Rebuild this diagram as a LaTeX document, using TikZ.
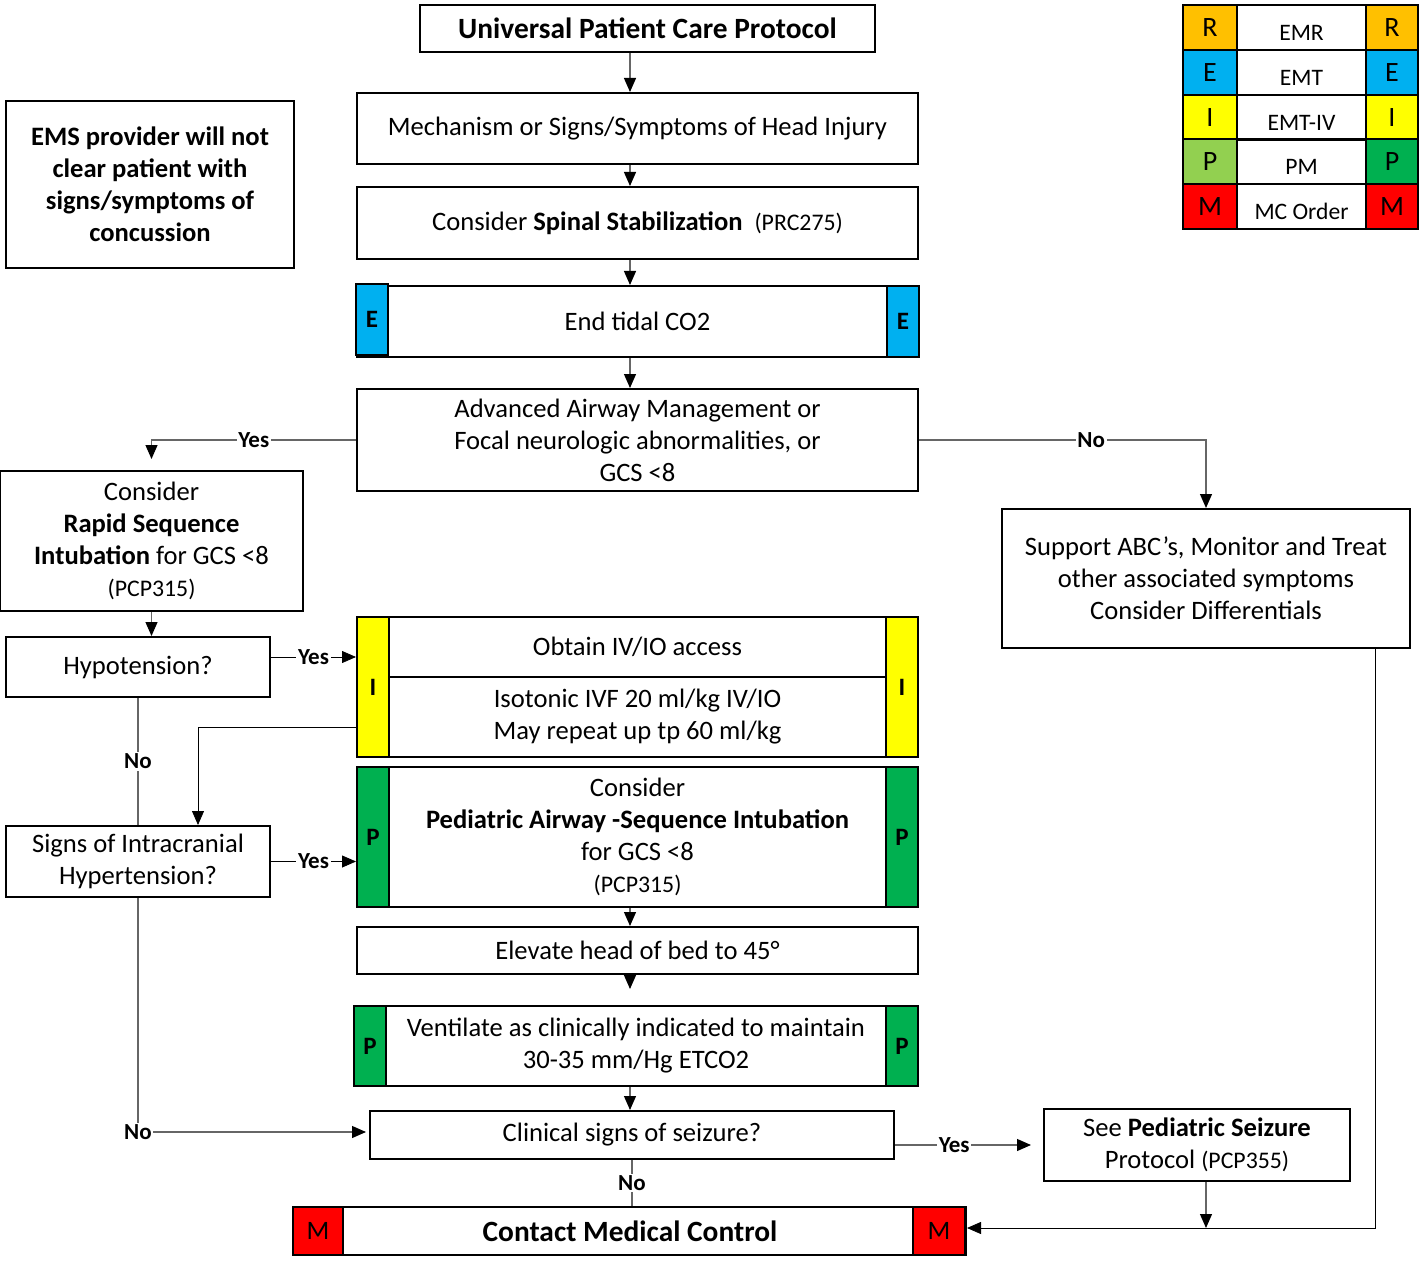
\documentclass[tikz,border=0pt]{standalone}
\usepackage{fontspec}
\setmainfont{Carlito}
\usetikzlibrary{arrows.meta}
\definecolor{emrorange}{HTML}{FFC000}
\definecolor{emtblue}{HTML}{00B0F0}
\definecolor{ivyellow}{HTML}{FFFF00}
\definecolor{pmlight}{HTML}{92D050}
\definecolor{pmgreen}{HTML}{00B050}
\definecolor{mcred}{HTML}{FF0000}

\tikzset{
  box/.style={draw, line width=1pt, fill=white, align=center, inner sep=0pt,
    font=\fontsize{13.3}{16}\selectfont},
  tab/.style={draw, line width=1pt, inner sep=0pt, minimum width=16pt,
    font=\bfseries\fontsize{12.5}{14}\selectfont},
  cell/.style={draw, line width=1pt, inner sep=0pt, minimum height=22.5pt,
    font=\fontsize{14}{16}\selectfont},
  lbl/.style={fill=white, inner sep=0.8pt, font=\bfseries\fontsize{11.5}{13}\selectfont},
  link/.style={draw=black!60, line width=0.6pt},
  >={Triangle[width=6pt,length=7pt,color=black]}
}
\newcommand{\smalltxt}[1]{{\fontsize{11.9}{13}\selectfont #1}}

\begin{document}
\begin{tikzpicture}[x=0.5pt, y=-0.5pt]
 \useasboundingbox (0,0) rectangle (1421,1268);
 \coordinate (spine) at (630,0);

 % top of the chart
 \node[box, font=\bfseries\fontsize{14.7}{16}\selectfont, minimum width=227.5pt, minimum height=23.5pt]
   (upcp) at (647.5,28.5) {Universal Patient Care Protocol};
 \node[box, font=\bfseries\fontsize{13.3}{16}\selectfont, minimum width=144pt, minimum height=83.5pt]
   (concussion) at (150,184.5) {EMS provider will not\\clear patient with\\signs/symptoms of\\concussion};
 \node[box, minimum width=280.5pt, minimum height=35.5pt]
   (mech) at (637.5,128.5) {Mechanism or Signs/Symptoms of Head Injury};
 \node[box, minimum width=280.5pt, minimum height=36pt]
   (spinal) at (637.5,223) {Consider \textbf{Spinal Stabilization}\ \ \smalltxt{(PRC275)}};
 \node[box, minimum width=280.5pt, minimum height=35.5pt]
   (etco) at (637.5,321.5) {End tidal CO2};
 \node[tab, fill=emtblue, minimum height=35pt] (etcoL) at (372,319.5) {E};
 \node[tab, fill=emtblue, minimum height=35.5pt] (etcoR) at (903,321.5) {E};
 \node[box, minimum width=280.5pt, minimum height=51pt]
   (airway) at (637.5,440) {Advanced Airway Management or\\Focal neurologic abnormalities, or\\GCS <8};

 % left branch
 \node[box, minimum width=151.5pt, minimum height=70pt]
   (rsi) at (151.5,541) {Consider\\\textbf{Rapid Sequence}\\\textbf{Intubation} for GCS <8\\\smalltxt{(PCP315)}};
 \node[box, minimum width=132pt, minimum height=30pt] (hypo) at (138,667) {Hypotension?};
 \node[box, minimum width=132pt, minimum height=35.5pt]
   (signs) at (138,861.5) {Signs of Intracranial\\Hypertension?};

 % right branch
 \node[box, minimum width=204pt, minimum height=69.5pt]
   (support) at (1206,578.5) {Support ABC’s, Monitor and Treat\\other associated symptoms\\Consider Differentials};

 % IV / IO
 \node[box, minimum width=248.5pt, minimum height=30pt] (ivtop) at (637.5,647) {Obtain IV/IO access};
 \node[box, minimum width=248.5pt, minimum height=40pt]
   (ivfluid) at (637.5,717) {Isotonic IVF 20 ml/kg IV/IO\\May repeat up tp 60 ml/kg};
 \node[tab, fill=ivyellow, minimum height=70pt] (ivL) at (373,687) {I};
 \node[tab, fill=ivyellow, minimum height=70pt] (ivR) at (902,687) {I};

 % paramedic steps
 \node[box, minimum width=280.5pt, minimum height=70pt]
   (pai) at (637.5,837) {Consider\\\textbf{Pediatric Airway -Sequence Intubation}\\for GCS <8\\\smalltxt{(PCP315)}};
 \node[tab, fill=pmgreen, minimum height=70pt] (paiL) at (373,837) {P};
 \node[tab, fill=pmgreen, minimum height=70pt] (paiR) at (902,837) {P};
 \node[box, minimum width=280.5pt, minimum height=23.5pt] (elevate) at (637.5,950.5) {Elevate head of bed to 45°};
 \node[box, minimum width=282pt, minimum height=40pt]
   (vent) at (636,1046) {Ventilate as clinically indicated to maintain\\30-35 mm/Hg ETCO2};
 \node[tab, fill=pmgreen, minimum height=40pt] (ventL) at (370,1046) {P};
 \node[tab, fill=pmgreen, minimum height=40pt] (ventR) at (902,1046) {P};

 % bottom
 \node[box, minimum width=262pt, minimum height=24pt] (seizure) at (632,1135) {Clinical signs of seizure?};
 \node[box, minimum width=153pt, minimum height=36pt]
   (seepro) at (1197,1145) {See \textbf{Pediatric Seizure}\\Protocol \smalltxt{(PCP355)}};
 \node[box, font=\bfseries\fontsize{14.7}{16}\selectfont, minimum width=336pt, minimum height=24pt]
   (contact) at (630,1231) {Contact Medical Control};
 \node[tab, fill=mcred, minimum width=25pt, minimum height=24pt, font=\fontsize{13.3}{14}\selectfont] (contactL) at (318,1231) {M};
 \node[tab, fill=mcred, minimum width=26pt, minimum height=24pt, font=\fontsize{13.3}{14}\selectfont] (contactR) at (939,1231) {M};

 % legend
 \node[cell, fill=emrorange, minimum width=27pt] (rL) at (1210,28) {R};
 \node[cell, minimum width=64.5pt, text height=13pt, text depth=0pt, font=\fontsize{11.8}{13}\selectfont] (rM) at (1301.5,28) {EMR};
 \node[cell, fill=emrorange, minimum width=26pt] (rR) at (1392,28) {R};
 \node[cell, fill=emtblue, minimum width=27pt] (eL) at (1210,72.5) {E};
 \node[cell, minimum width=64.5pt, text height=13pt, text depth=0pt, font=\fontsize{11.8}{13}\selectfont] (eM) at (1301.5,72.5) {EMT};
 \node[cell, fill=emtblue, minimum width=26pt] (eR) at (1392,72.5) {E};
 \node[cell, fill=ivyellow, minimum width=27pt] (iL) at (1210,117.5) {I};
 \node[cell, minimum width=64.5pt, text height=13pt, text depth=0pt, font=\fontsize{11.8}{13}\selectfont] (iM) at (1301.5,117.5) {EMT-IV};
 \node[cell, fill=ivyellow, minimum width=26pt] (iR) at (1392,117.5) {I};
 \node[cell, fill=pmlight, minimum width=27pt] (pL) at (1210,162) {P};
 \node[cell, minimum width=64.5pt, text height=13pt, text depth=0pt, font=\fontsize{11.8}{13}\selectfont] (pM) at (1301.5,162) {PM};
 \node[cell, fill=pmgreen, minimum width=26pt] (pR) at (1392,162) {P};
 \node[cell, fill=mcred, minimum width=27pt] (mL) at (1210,206.5) {M};
 \node[cell, minimum width=64.5pt, text height=13pt, text depth=0pt, font=\fontsize{11.8}{13}\selectfont] (mM) at (1301.5,206.5) {MC Order};
 \node[cell, fill=mcred, minimum width=26pt] (mR) at (1392,206.5) {M};

 % connectors down the middle
 \draw[link, ->] (upcp.south -| spine) -- (mech.north -| spine);
 \draw[link, ->] (mech.south -| spine) -- (spinal.north -| spine);
 \draw[link, ->] (spinal.south -| spine) -- (etco.north -| spine);
 \draw[link, ->] (etco.south -| spine) -- (airway.north -| spine);
 \draw[link, ->] (pai.south -| spine) -- (elevate.north -| spine);
 \draw[link, ->, shorten >=8pt] (elevate.south -| spine) -- (vent.north -| spine);
 \draw[link, ->] (vent.south -| spine) -- (seizure.north -| spine);

 % yes / no branches
 \draw[link, ->, shorten >=5.5pt] (airway.west) -| node[lbl, pos=0.25] {Yes} (rsi.north);
 \draw[link, ->] (airway.east) -| node[lbl, pos=0.3] {No} (support.north);
 \draw[link, ->] (rsi.south) -- (rsi.south |- hypo.north);
 \draw[black, ->] ([yshift=5pt]hypo.east) -- node[lbl] {Yes} ([yshift=5pt]hypo.east -| ivL.west);
 \draw[link] (hypo.south) -- node[lbl] {No} (signs.north);
 \draw[black, ->] ([yshift=-20pt]ivL.west) -| ([xshift=30pt]signs.north);
 \draw[black, ->] (signs.east) -- node[lbl] {Yes} (signs.east -| paiL.west);
 \draw[link, ->, shorten >=1.5pt] (signs.south) |- node[lbl, pos=0.5] {No} ([yshift=1.5pt]seizure.west);
 \draw[link, ->, shorten >=6pt] (seizure.east |- seepro.west) -- node[lbl, pos=0.4] {Yes} (seepro.west);
 \draw[link] (seizure.south) -- node[lbl] {No} (seizure.south |- contact.north);
 \draw[black, ->] ([xshift=-18pt]support.south east) |- ([yshift=1.5pt]contact.east);
 \draw[link, ->] ([xshift=4.5pt]seepro.south) -- ([xshift=4.5pt,yshift=1.5pt]seepro.south |- contact.east);
\end{tikzpicture}
\end{document}
